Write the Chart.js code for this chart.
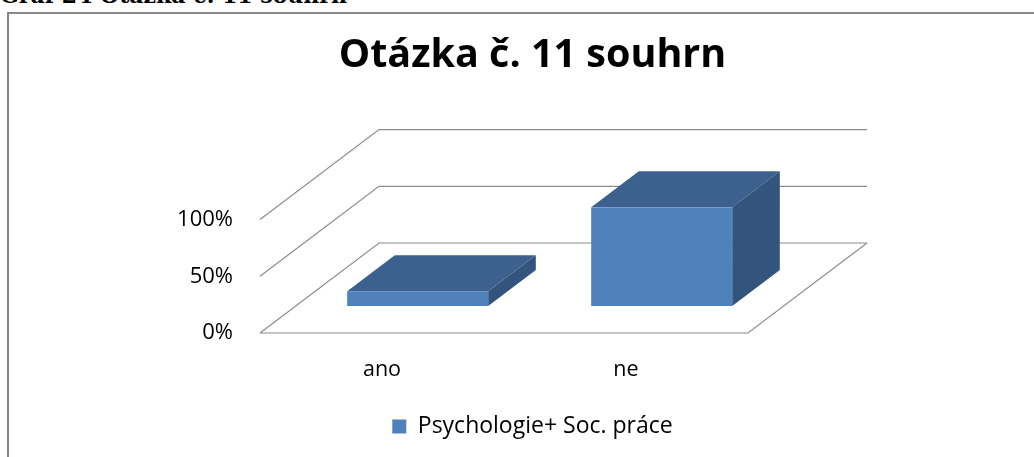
<!DOCTYPE html>
<html>
<head>
<meta charset="utf-8">
<script src="https://cdn.jsdelivr.net/npm/chart.js@4.4.1/dist/chart.umd.min.js"></script>
<style>
  html, body { margin: 0; padding: 0; background: #fff; overflow: hidden; }
  #caption {
    position: absolute; left: 0; top: -18px;
    font: bold 22px "DejaVu Serif", serif; color: #000; white-space: nowrap;
  }
  #frame {
    position: absolute; left: 7px; top: 12px; width: 1100px; height: 500px;
    border: 2px solid #878787;
  }
  #wrap { position: absolute; left: 0; top: 0; width: 1065px; height: 457px; }
</style>
</head>
<body>
<div id="caption">Graf 24 Otázka č. 11 souhrn</div>
<div id="frame"></div>
<div id="wrap"><canvas id="chart"></canvas></div>
<script>
// data
const categories = ['ano', 'ne'];
const seriesName = 'Psychologie+ Soc. práce';
const seriesValues = [13, 87];
const yTicks = [0, 50, 100];

// 3D vzhled
const DEPTH_X = 119;
const DEPTH_Y = 90;
const BAR_FRONT = 0.3;
const BAR_BACK = 0.7;
const FRONT_COLOR = '#4F81BD';
const TOP_COLOR = '#3C618E';
const SIDE_COLOR = '#33547C';
const GRID_COLOR = '#8C8C8C';

function line(ctx, pts) {
    ctx.beginPath();
    ctx.moveTo(pts[0][0], pts[0][1]);
    for (let i = 1; i < pts.length; i++) ctx.lineTo(pts[i][0], pts[i][1]);
    ctx.stroke();
}

function poly(ctx, pts, color) {
    ctx.beginPath();
    ctx.moveTo(pts[0][0], pts[0][1]);
    for (let i = 1; i < pts.length; i++) ctx.lineTo(pts[i][0], pts[i][1]);
    ctx.closePath();
    ctx.fillStyle = color;
    ctx.fill();
}

// kresli steny, podlahu a kvadry misto plochych sloupcu
const bars3d = {
    id: 'bars3d',
    beforeDatasetsDraw(chart) {
        const { ctx, chartArea: a, scales: { y } } = chart;
        ctx.save();
        ctx.strokeStyle = GRID_COLOR;
        ctx.lineWidth = 1.2;
        yTicks.forEach(v => {
            const py = y.getPixelForValue(v);
            line(ctx, [[a.left, py], [a.left + DEPTH_X, py - DEPTH_Y], [a.right + DEPTH_X, py - DEPTH_Y]]);
        });
        const p0 = y.getPixelForValue(0);
        line(ctx, [[a.left, p0], [a.right, p0], [a.right + DEPTH_X, p0 - DEPTH_Y]]);

        const ox = BAR_FRONT * DEPTH_X, oy = BAR_FRONT * DEPTH_Y;
        const dx = (BAR_BACK - BAR_FRONT) * DEPTH_X, dy = (BAR_BACK - BAR_FRONT) * DEPTH_Y;
        chart.getDatasetMeta(0).data.forEach(bar => {
            const p = bar.getProps(['x', 'y', 'base', 'width'], true);
            const l = p.x - p.width / 2 + ox, r = p.x + p.width / 2 + ox;
            const t = p.y - oy, b = p.base - oy;
            poly(ctx, [[l, t], [r, t], [r + dx, t - dy], [l + dx, t - dy]], TOP_COLOR);
            poly(ctx, [[r, t], [r + dx, t - dy], [r + dx, b - dy], [r, b]], SIDE_COLOR);
            ctx.fillStyle = FRONT_COLOR;
            ctx.fillRect(l, t, r - l, b - t);
        });
        ctx.restore();
        return false;
    }
};

new Chart(document.getElementById('chart'), {
    type: 'bar',
    data: {
        labels: categories,
        datasets: [{
            label: seriesName,
            data: seriesValues,
            backgroundColor: FRONT_COLOR,
            borderWidth: 0,
            barPercentage: 1,
            categoryPercentage: 0.578
        }]
    },
    plugins: [bars3d],
    options: {
        responsive: true,
        maintainAspectRatio: false,
        animation: false,
        layout: { padding: { bottom: 9 } },
        plugins: {
            title: {
                display: true,
                text: 'Otázka č. 11 souhrn',
                color: '#000',
                font: { family: '"Open Sans"', size: 39.5, weight: 'bold', lineHeight: 1.2 },
                padding: { top: 32, bottom: 140.2 }
            },
            legend: {
                position: 'bottom',
                labels: {
                    color: '#000',
                    font: { family: '"Open Sans"', size: 23 },
                    boxWidth: 14,
                    boxHeight: 14,
                    padding: 10
                }
            },
            tooltip: { enabled: false }
        },
        scales: {
            x: {
                grid: { display: false, drawTicks: false },
                border: { display: false },
                ticks: { color: '#000', font: { family: '"Open Sans"', size: 21.5 }, padding: 24 },
                afterFit: s => { s.height = 72; }
            },
            y: {
                min: 0,
                max: 100,
                grid: { display: false, drawTicks: false },
                border: { display: false },
                ticks: {
                    stepSize: 50,
                    color: '#000',
                    font: { family: '"Open Sans"', size: 22 },
                    padding: 27,
                    callback: v => v + '%'
                },
                afterFit: s => { s.width = 260; }
            },
            y2: {
                position: 'right',
                display: true,
                grid: { display: false, drawTicks: false },
                border: { display: false },
                ticks: { display: false },
                afterFit: s => { s.width = 317; }
            }
        }
    }
});
</script>
</body>
</html>
